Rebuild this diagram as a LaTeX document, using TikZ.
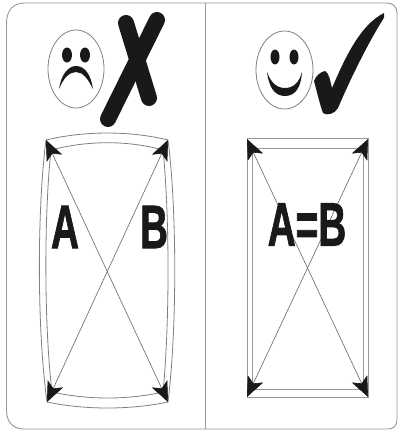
\documentclass[tikz,border=0pt]{standalone}
\usepackage{fontspec}
\setmainfont[BoldFeatures={FakeBold=1.6}]{Liberation Sans}
\usetikzlibrary{arrows.meta}
\tikzset{x=1pt,y=-1pt,
 thin line/.style={draw=black!50,line width=0.8pt},
 rect line/.style={draw=black!40,line width=1pt},
 frame line/.style={draw=black!40,line width=0.9pt},
 diag/.style={draw=black!60,line width=0.6pt,{Stealth[length=20pt,width=17pt,inset=5pt,color=black!90]}-{Stealth[length=20pt,width=17pt,inset=5pt,color=black!90]}},
 big/.style={font=\bfseries\fontsize{45}{45}\selectfont,inner sep=0pt,text=black!90,yscale=1.36,xscale=.86}}
\begin{document}
\begin{tikzpicture}
\useasboundingbox (0,0) rectangle (398,431);
\fill[white] (0,0) rectangle (398,431);
\draw[frame line] (6.5,24) .. controls (6.5,10) and (13,3) .. (25,3) -- (387,3) .. controls (393,3) and (397,7) .. (397,13) -- (397,420) .. controls (397,426) and (393,429) .. (388,429) -- (24,429) .. controls (13,429) and (6.5,422) .. (6.5,410) -- cycle;
\draw[frame line] (205,3) -- (205,429);
% sad face
\draw[thin line] (76,69) ellipse [x radius=28, y radius=39];
\fill[black!90] (67,55) ellipse [x radius=5, y radius=7.5];
\fill[black!90] (85,55) ellipse [x radius=5, y radius=7.5];
\fill[black!90] (59,89) .. controls (61,75) and (68,66) .. (76,66) .. controls (85,66) and (91,75) .. (93,89) .. controls (88,79) and (83,72) .. (76,72) .. controls (69,72) and (63,79) .. (59,89) -- cycle;
% cross
\draw[black!90,line width=16pt,line cap=round] (126,23) -- (149,98);
\draw[black!90,line width=16pt,line cap=round] (157,20) -- (108,119);
% smile
\draw[thin line] (284.5,70) ellipse [x radius=28.5, y radius=39];
\fill[black!90] (275,57) ellipse [x radius=4.5, y radius=7.5];
\fill[black!90] (294,57) ellipse [x radius=4.5, y radius=7.5];
\fill[black!90] (267,72) .. controls (269,88) and (275,96) .. (285,96) .. controls (295,96) and (301,88) .. (302,72) .. controls (299,83) and (293,88) .. (285,88) .. controls (277,88) and (271,83) .. (267,72) -- cycle;
% tick
\fill[black!90] (314,81) .. controls (316,76) and (320,72) .. (325,71) .. controls (329,73) and (330,80) .. (332,88) .. controls (345,58) and (360,25) .. (384,13) .. controls (385,16) and (384,18) .. (382,21) .. controls (370,40) and (352,75) .. (338,108) .. controls (335,114) and (326,116) .. (323,113) .. controls (320,105) and (317,92) .. (314,81) -- cycle;
% left frame
\coordinate (LA) at (46,140); \coordinate (LB) at (168,140);
\coordinate (LC) at (47,402); \coordinate (LD) at (168,402);
\draw[thin line] (LA) .. controls (85,130.7) and (130,130.7) .. (LB) .. controls (177,210) and (177,330) .. (LD) .. controls (130,410) and (85,410) .. (LC) .. controls (37,330) and (37,210) .. (LA) -- cycle;
\draw[thin line] (51,150) .. controls (88,140.3) and (128,140.3) .. (163,150) .. controls (169.7,215) and (169.7,325) .. (163,392) .. controls (128,400) and (88,400) .. (52,392) .. controls (44,325) and (44,215) .. (51,150) -- cycle;
\draw[diag] (LA) -- (LD);
\draw[diag] (LB) -- (LC);
% right frame
\coordinate (RA) at (247,139); \coordinate (RB) at (368,139);
\coordinate (RC) at (247,397); \coordinate (RD) at (368,397);
\draw[rect line] (247,138) rectangle (368,397);
\draw[rect line] (252,148) rectangle (363,389);
\draw[diag] (RA) -- (RD);
\draw[diag] (RB) -- (RC);
\node[big] (a) at (65,227) {A};
\node[big] (b) at (154,227) {B};
\node[big] (ab) at (307,224.5) {A=B};
\end{tikzpicture}
\end{document}
